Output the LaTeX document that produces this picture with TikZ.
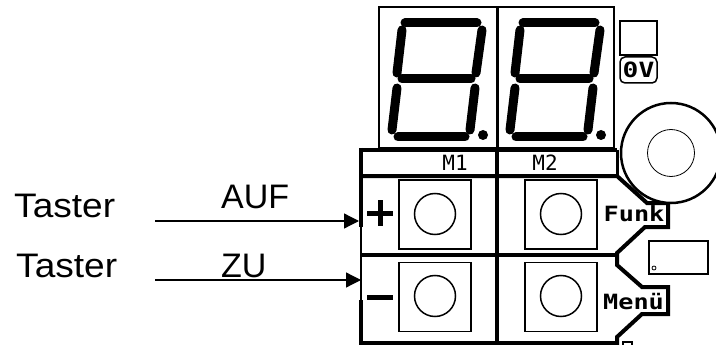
\documentclass[tikz,border=0pt]{standalone}
\usepackage{fontspec}
\setmainfont{Liberation Sans}
\newfontfamily\lcdfont{DejaVu Sans Mono}
\usetikzlibrary{arrows.meta}

\begin{document}
\begin{tikzpicture}[x=1pt, y=-1pt,
	segment/.style={line width=9pt, line cap=round},
	hauptlinie/.style={line width=4pt, line join=miter},
	taste/.style={draw, line width=1.3pt, minimum width=72pt, minimum height=69pt, inner sep=0pt},
	knopf/.style={draw, circle, line width=1.5pt, minimum size=41pt, inner sep=0pt},
	schrift/.style={anchor=base west, font=\fontsize{34}{34}\selectfont, inner sep=0pt},
	lcd/.style={font=\lcdfont\bfseries\fontsize{21}{21}\selectfont, inner sep=0pt},
	pfeil/.style={line width=1.3pt, -{Triangle[length=15pt,width=15pt]}},]

\useasboundingbox (0,0) rectangle (716,345);

% Anzeige
\node[draw, line width=1.3pt, minimum width=235pt, minimum height=141pt, inner sep=0pt] (anzeige) at (496.5,77.5) {};
\draw[line width=3pt] (497,7) -- (497,150);

\draw[segment] (405,23) -- (477,23);
\draw[segment] (402,30) -- (397,73);
\draw[segment] (482,30) -- (476,73);
\draw[segment] (402,79) -- (471,79);
\draw[segment] (397,88) -- (392,130);
\draw[segment] (475,88) -- (470,130);
\draw[segment] (398,137) -- (465,137);
\fill (483,135) circle (5);

\draw[segment] (523,23) -- (595,23);
\draw[segment] (520,30) -- (515,73);
\draw[segment] (600,30) -- (594,73);
\draw[segment] (520,79) -- (589,79);
\draw[segment] (515,88) -- (510,130);
\draw[segment] (593,88) -- (588,130);
\draw[segment] (516,137) -- (583,137);
\fill (601,135) circle (5);

% Rahmen
\draw[hauptlinie] (359,150) -- (617,150);
\draw[hauptlinie] (361,176) -- (617,176) -- (647,203) -- (668,203) -- (668,227) -- (645,227)
	-- (617,253) -- (617,265) -- (642,287) -- (668,287) -- (668,314) -- (642,314) -- (617,337) -- (617,343) -- (361,343);
\draw[hauptlinie] (361,255) -- (617,255);
\draw[line width=4pt] (497,150) -- (497,343);
\draw[line width=4pt] (361,148) -- (361,227);
\draw[line width=2pt] (361,227) -- (361,300);
\draw[line width=4pt] (361,300) -- (361,345);
\draw[line width=3pt] (617,150) -- (617,176);

% Tasten
\node[taste] (tasteplus) at (435,214.5) {};
\node[taste] (tasteminus) at (435,297) {};
\node[taste] (tastefunk) at (561,214.5) {};
\node[taste] (tastemenu) at (561,297) {};
\node[knopf] (knopfplus) at (435,214) {};
\node[knopf] (knopfminus) at (435,296) {};
\node[knopf] (knopffunk) at (561,214) {};
\node[knopf] (knopfmenu) at (561,296) {};
\draw[line width=5pt] (367,213) -- (393,213);
\draw[line width=5pt] (380,200) -- (380,226);
\draw[line width=5pt] (367,297) -- (393,297);

% Drehknopf
\node[draw, circle, fill=white, line width=2.5pt, minimum size=100pt, inner sep=0pt] (drehknopf) at (671,153) {};
\node[draw, circle, line width=0.8pt, minimum size=47pt, inner sep=0pt] (drehmitte) at (671,153) {};

% Kleinteile
\node[draw, line width=1.3pt, minimum width=37pt, minimum height=34pt, inner sep=0pt] (led) at (638.5,38) {};
\draw[line width=2.5pt] (620,55) -- (657,55);
\draw[line width=1.5pt, rounded corners=5pt] (620,57) rectangle (657,83);
\node[lcd, xscale=1.25] (nullvolt) at (638.5,70) {0V};
\node[draw, line width=1.3pt, minimum width=59pt, minimum height=33pt, inner sep=0pt] (fenster) at (678.5,257.5) {};
\node[draw, circle, line width=0.8pt, minimum size=4pt, inner sep=0pt] (fensterpunkt) at (654,268) {};
\draw[line width=1.3pt] (623,345) -- (623,342) -- (632,342) -- (632,345);

% Beschriftung
\node[lcd, font=\lcdfont\fontsize{21}{21}\selectfont] (mone) at (455,163) {M1};
\node[lcd, font=\lcdfont\fontsize{21}{21}\selectfont] (mtwo) at (545,163) {M2};
\node[lcd, xscale=1.2] (funk) at (634,214) {Funk};
\node[lcd, xscale=1.2] (menu) at (633.5,302) {Menü};

\node[schrift, xscale=1.09] (tasterauf) at (14,218) {Taster};
\node[schrift, xscale=1.09] (tasterzu) at (16,277) {Taster};
\node[schrift] (auf) at (221,208) {AUF};
\node[schrift] (zu) at (221,277) {ZU};

\coordinate (aufstart) at (155,221);
\coordinate (aufende) at (359,221);
\coordinate (zustart) at (155,280);
\coordinate (zuende) at (361,280);
\draw[pfeil] (aufstart) -- (aufende);
\draw[pfeil] (zustart) -- (zuende);

\end{tikzpicture}
\end{document}
